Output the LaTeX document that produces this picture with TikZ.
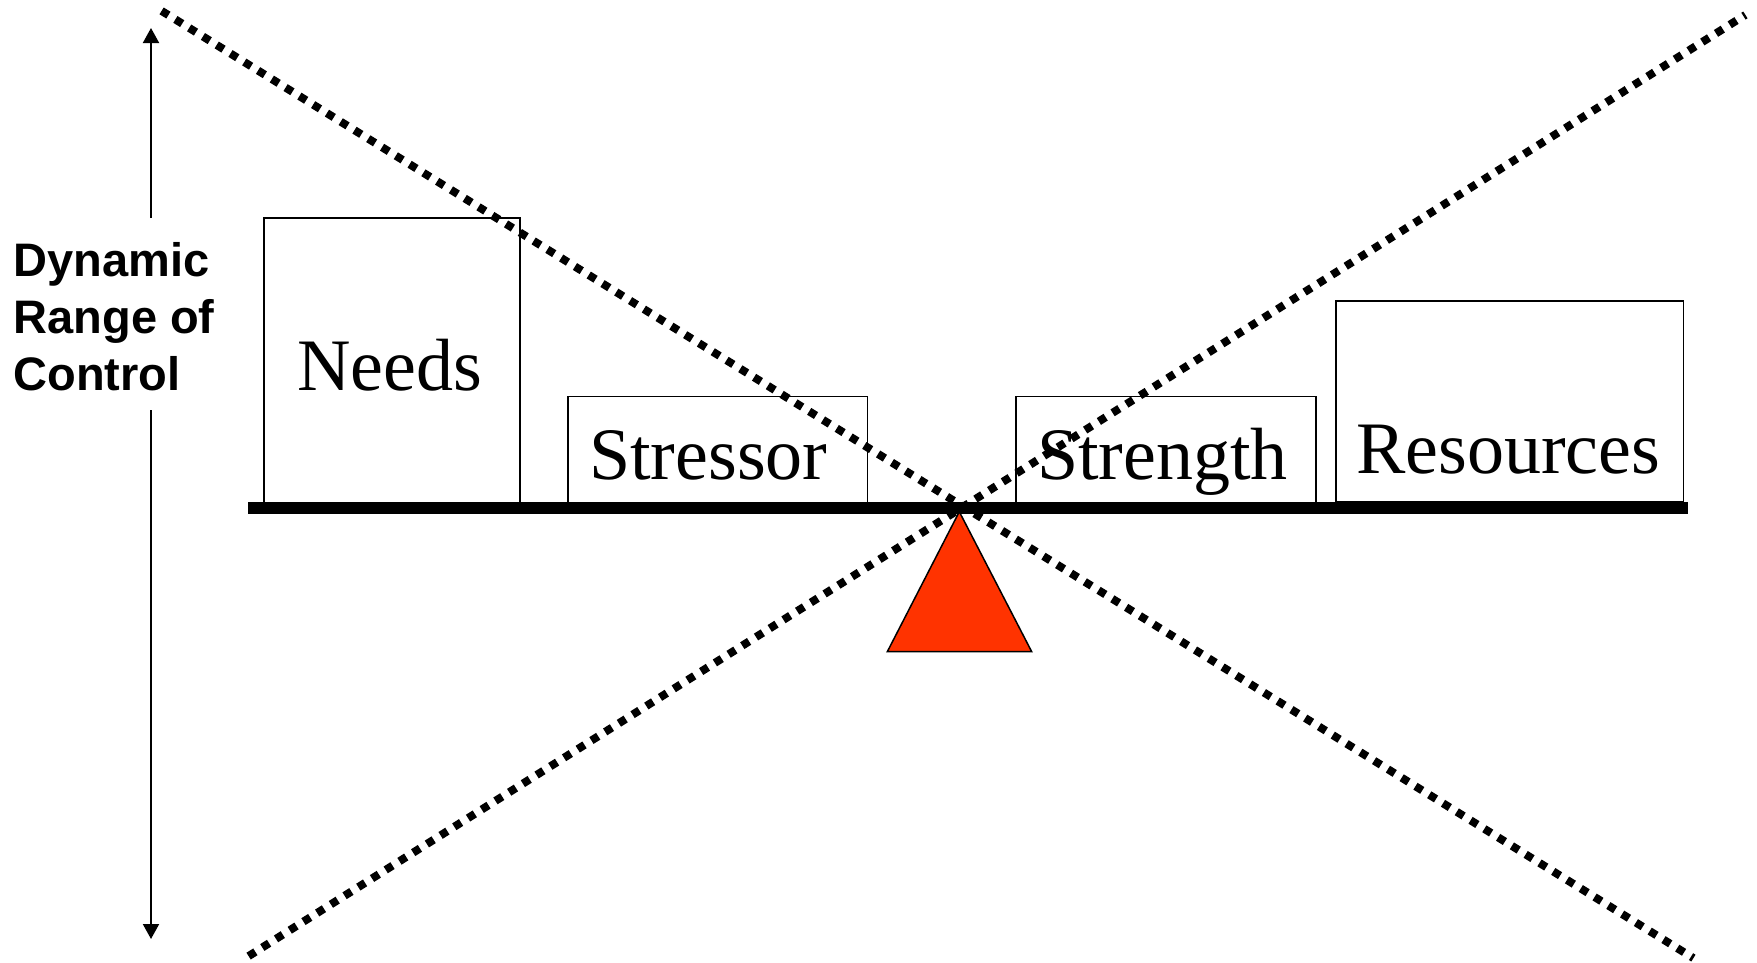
\documentclass[tikz,border=0pt]{standalone}
\usepackage{fontspec}
\setmainfont{Liberation Serif}
\newfontfamily\labelfont{Liberation Sans}
\usetikzlibrary{arrows.meta}
\definecolor{pivotred}{HTML}{FF3300}
\begin{document}
\begin{tikzpicture}[x=1pt,y=-1pt,
  box/.style={draw=black, line width=1.6pt, fill=white, inner sep=0pt, anchor=north west},
  word/.style={font=\fontsize{74}{80}\selectfont, inner sep=0pt, anchor=base},
  side/.style={font=\labelfont\bfseries\fontsize{47}{56}\selectfont, inner sep=0pt, anchor=base west},
  dotline/.style={line width=8pt, dash pattern=on 8pt off 8.2pt},
  rangearrow/.style={line width=2pt, -{Triangle[width=16pt,length=15pt]}}]
\useasboundingbox (0,0) rectangle (1757,962);

% boxes
\node[box, minimum width=255.7pt, minimum height=284.4pt] (needs) at (263.3,217.3) {};
\node[box, minimum width=299.4pt, minimum height=106pt] (stressor) at (567.3,395.7) {};
\node[box, minimum width=300pt, minimum height=106pt] (strength) at (1015,395.7) {};
\node[box, minimum width=347.7pt, minimum height=200.5pt] (resources) at (1335,300) {};

% beam
\node[fill=black, inner sep=0pt, anchor=north west, minimum width=1439.7pt, minimum height=11.6pt] (beam) at (248,501.7) {};

% pivot
\coordinate (apex) at (959.3,511.7);
\coordinate (baseL) at (887.3,651.7);
\coordinate (baseR) at (1031.7,651.7);
\draw[fill=pivotred, line width=1.5pt, line join=miter] (apex) -- (baseL) -- (baseR) -- cycle;

% box texts
\node[word] (tneeds) at (390,390.7) {Needs};
\node[word] (tstressor) at (708.3,479) {Stressor};
\node[word] (tstrength) at (1162.5,479) {Strength};
\node[word] (tresources) at (1508.3,473.3) {Resources};

% side label
\node[side] (l1) at (13.3,276.7) {Dynamic};
\node[side] (l2) at (13.3,333.3) {Range of};
\node[side] (l3) at (13.3,390) {Control};

% range arrows
\coordinate (gaptop) at (151,218);
\coordinate (arrtop) at (151,28);
\coordinate (gapbot) at (151,410);
\coordinate (arrbot) at (151,939);
\draw[rangearrow] (gaptop) -- (arrtop);
\draw[rangearrow] (gapbot) -- (arrbot);

% dotted diagonals
\coordinate (d1a) at (161.6,10.9);
\coordinate (d1b) at (1693.4,958.1);
\coordinate (d2a) at (248.6,956.1);
\coordinate (d2b) at (1745.4,14.9);
\draw[dotline] (d1a) -- (d1b);
\draw[dotline] (d2a) -- (d2b);
\end{tikzpicture}
\end{document}
